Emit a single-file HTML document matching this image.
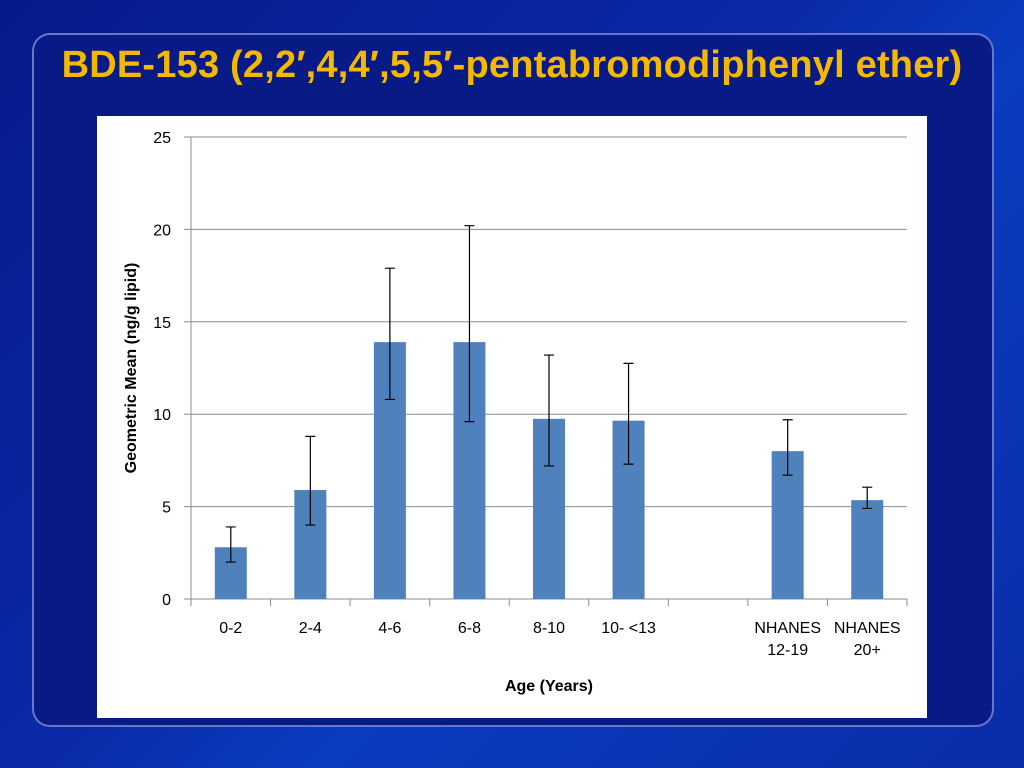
<!DOCTYPE html>
<html><head><meta charset="utf-8"><style>
html,body{margin:0;padding:0;width:1024px;height:768px;overflow:hidden}
body{background:linear-gradient(135deg,#061a8a 0%,#0a2aa8 45%,#0a3cc0 60%,#0a2ca8 100%);font-family:"Liberation Sans",sans-serif;position:relative}
#panel{position:absolute;left:32px;top:33px;width:958px;height:690px;border:2px solid rgba(140,160,230,0.7);border-radius:18px;background:#071a86}
#title{position:absolute;left:0;width:1024px;top:44px;text-align:center;color:#f5b800;font-weight:bold;font-size:38px;letter-spacing:0.2px;white-space:nowrap}
#chart{position:absolute;left:97px;top:116px;width:830px;height:602px;background:#fff}
</style></head><body>
<div id="panel"></div>
<div id="title">BDE-153 (2,2′,4,4′,5,5′-pentabromodiphenyl ether)</div>
<div id="chart">
<svg id="svg" width="830" height="602" xmlns="http://www.w3.org/2000/svg" font-family="Liberation Sans, sans-serif"></svg>
</div>
<script>
const categories=["0-2","2-4","4-6","6-8","8-10","10- <13","","NHANES|12-19","NHANES|20+"];
const values=[2.8,5.9,13.9,13.9,9.75,9.65,null,8.0,5.35];
const errLow=[2.0,4.0,10.8,9.6,7.2,7.3,null,6.7,4.9];
const errHigh=[3.9,8.8,17.9,20.2,13.2,12.75,null,9.7,6.05];
const yTicks=[0,5,10,15,20,25];
const NS="http://www.w3.org/2000/svg";
const svg=document.getElementById('svg');
const ox=97,oy=116;
const L=191-ox,R=907-ox,T=137-oy,B=599-oy;
const yMax=25;
const y=v=>B-(v/yMax)*(B-T);
const bw=(R-L)/categories.length;
const x=i=>L+bw*(i+0.5);
function mk(tag,attrs,parent){const e=document.createElementNS(NS,tag);for(const k in attrs)e.setAttribute(k,attrs[k]);(parent||svg).appendChild(e);return e;}
yTicks.forEach(t=>{
  const g=mk('line',{x1:L-7,x2:R,y1:y(t),y2:y(t),stroke:'#8c8c8c','stroke-width':1});
  
  
  const tx=mk('text',{x:L-20,y:y(t)+6,'text-anchor':'end','font-size':16,fill:'#000'});
  tx.textContent=t;
  
  
});
mk('line',{x1:L,x2:L,y1:T,y2:B,stroke:'#8c8c8c'});
for(let i=0;i<=categories.length;i++){mk('line',{x1:L+bw*i,x2:L+bw*i,y1:B,y2:B+7,stroke:'#8c8c8c'});}
categories.forEach((c,i)=>{
  const parts=c.split('|');
  parts.forEach((p,j)=>{
    const t=mk('text',{x:x(i),y:B+34+j*22,'text-anchor':'middle','font-size':16,fill:'#000'});
    t.textContent=p;
    
    
  });
  if(values[i]==null)return;
  const r=mk('rect',{x:x(i)-16,y:y(values[i]),width:32,height:B-y(values[i]),fill:'#4f81bd'});
  
  
  const e=mk('path',{d:`M${x(i)-5},${y(errHigh[i])}H${x(i)+5}M${x(i)},${y(errHigh[i])}V${y(errLow[i])}M${x(i)-5},${y(errLow[i])}H${x(i)+5}`,stroke:'#000','stroke-width':1.2,fill:'none'});
  
  
});
const xt=mk('text',{x:(L+R)/2,y:575,'text-anchor':'middle','font-size':16,'font-weight':'bold',fill:'#000'});
xt.textContent='Age (Years)';


const yt=mk('text',{x:0,y:0,'text-anchor':'middle','font-size':16,'font-weight':'bold',fill:'#000',transform:`translate(39,${(T+B)/2}) rotate(-90)`});
yt.textContent='Geometric Mean (ng/g lipid)';


</script>
</body></html>
